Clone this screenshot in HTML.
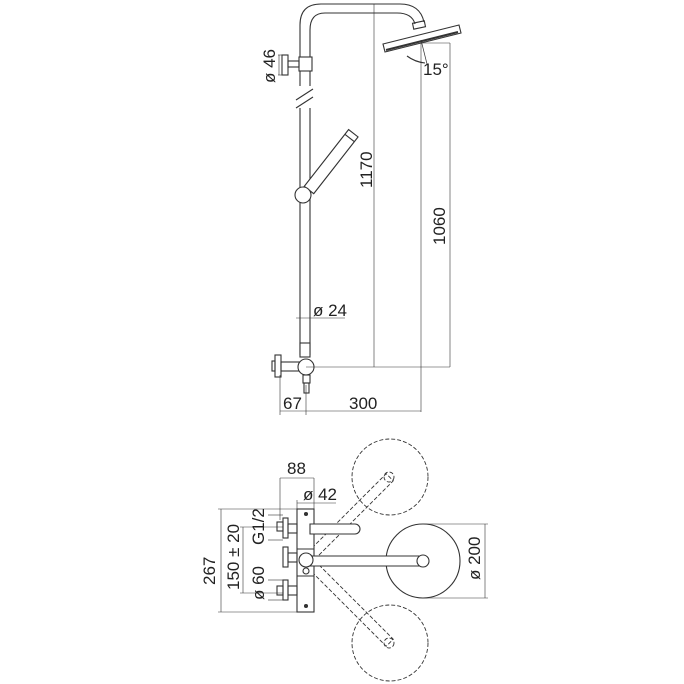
<!DOCTYPE html>
<html><head><style>body{margin:0;background:#fff}svg{display:block}text{font-family:"Liberation Sans",sans-serif;fill:#222}</style></head><body>
<svg width="684" height="684" viewBox="0 0 684 684" xmlns="http://www.w3.org/2000/svg">
<g fill="none" stroke="#333" stroke-width="1.1">
<path d="M300 355 V25 Q300 4 321 4 H400 Q420 4 424 22"/>
<path d="M310 355 V30 Q310 13 325 13 H397 Q412 13 415 24"/>
<rect x="413" y="22" width="12" height="6" transform="rotate(-12 419 25)"/>
<polygon points="383,44 459,25 461,33 385,52" fill="#fff"/>
<line x1="386" y1="50" x2="458" y2="32" stroke-width="2"/>
<path d="M407 56 Q415 62 425 63"/>
<line x1="421" y1="40" x2="427" y2="64" stroke-width="0.7"/>
<rect x="299" y="57" width="13" height="14" fill="#fff"/>
<rect x="288" y="61" width="11" height="6"/>
<rect x="282" y="55" width="6" height="20"/>
<line x1="278" y1="55" x2="288" y2="55" stroke-width="0.6"/>
<line x1="278" y1="75" x2="288" y2="75" stroke-width="0.6"/>
<line x1="279" y1="55" x2="279" y2="75" stroke-width="0.6"/>
<rect x="296" y="86" width="18" height="22" fill="#fff" stroke="none"/>
<line x1="296" y1="100" x2="313" y2="89"/>
<line x1="296" y1="108" x2="313" y2="97"/>
<g transform="rotate(38 309 190)"><rect x="303" y="118" width="12" height="72" fill="#fff"/><line x1="303" y1="124" x2="315" y2="124"/></g>
<circle cx="303" cy="195" r="8" fill="#fff"/>
<line x1="296" y1="318" x2="345" y2="318" stroke-width="0.6"/>
<rect x="300" y="343" width="10" height="14" fill="#fff"/>
<rect x="275" y="355" width="6" height="22"/>
<rect x="272" y="361" width="3" height="10"/>
<rect x="281" y="362" width="20" height="9"/>
<circle cx="306" cy="367" r="8" fill="#fff"/>
<rect x="303" y="375" width="7" height="8"/>
<rect x="304" y="383" width="5" height="10"/>
<g stroke-width="0.6">
<line x1="374" y1="4" x2="374" y2="367"/>
<line x1="306" y1="367" x2="450" y2="367"/>
<line x1="421" y1="43" x2="421" y2="412"/>
<line x1="450" y1="43" x2="450" y2="367"/>
<line x1="421" y1="43" x2="450" y2="43"/>
<line x1="280" y1="375" x2="280" y2="415"/>
<line x1="306" y1="385" x2="306" y2="415"/>
<line x1="280" y1="411" x2="421" y2="411"/>
</g>
</g>
<g font-size="17">
<text transform="translate(275 83) rotate(-90)">ø 46</text>
<text transform="translate(372 188) rotate(-90)">1170</text>
<text transform="translate(445 245) rotate(-90)">1060</text>
<text x="423" y="75">15°</text>
<text x="313" y="316">ø 24</text>
<text x="283" y="409">67</text>
<text x="349" y="409">300</text>
</g>
<g fill="none" stroke="#333" stroke-width="1.1">
<g stroke-dasharray="4 2" stroke-width="0.9">
<circle cx="390" cy="477" r="38"/><circle cx="390" cy="643" r="38"/>
<g transform="rotate(-45 307 560)"><rect x="307" y="555" width="117" height="10"/></g>
<g transform="rotate(45 307 560)"><rect x="307" y="555" width="117" height="10"/></g>
<circle cx="389" cy="477" r="5"/><circle cx="389" cy="643" r="5"/>
</g>
<circle cx="423" cy="561" r="37" fill="#fff"/>
<rect x="297" y="509" width="17" height="103" fill="#fff"/>
<line x1="297" y1="549" x2="314" y2="549"/><line x1="297" y1="576" x2="314" y2="576"/>
<path d="M308 556 H423 A5 5 0 0 1 423 566 H308 Z" fill="#fff"/>
<circle cx="423" cy="561" r="6" fill="#fff"/>
<path d="M310 524 H355 A5 5 0 0 1 355 534 H310 Z" fill="#fff"/>
<circle cx="306" cy="560" r="7" fill="#fff"/>
<circle cx="306" cy="571" r="3"/>
<circle cx="306" cy="514" r="1.5" fill="#333"/><circle cx="306" cy="606" r="1.5" fill="#333"/>
<rect x="283" y="518" width="5" height="20"/><rect x="288" y="524" width="9" height="9"/><rect x="277" y="522" width="6" height="9"/>
<rect x="283" y="547" width="5" height="20"/><rect x="288" y="553" width="9" height="9"/>
<rect x="283" y="580" width="5" height="20"/><rect x="288" y="586" width="9" height="9"/><rect x="277" y="586" width="6" height="9"/>
<g stroke-width="0.6">
<line x1="218" y1="509" x2="297" y2="509"/><line x1="218" y1="612" x2="297" y2="612"/>
<line x1="221" y1="509" x2="221" y2="612"/>
<line x1="243" y1="527" x2="243" y2="593"/>
<line x1="240" y1="527" x2="283" y2="527"/><line x1="240" y1="593" x2="283" y2="593"/>
<line x1="268" y1="515" x2="283" y2="515"/><line x1="268" y1="540" x2="283" y2="540"/>
<line x1="268" y1="580" x2="283" y2="580"/><line x1="268" y1="600" x2="283" y2="600"/>
<line x1="280" y1="478" x2="314" y2="478"/><line x1="280" y1="478" x2="280" y2="520"/><line x1="314" y1="478" x2="314" y2="509"/>
<line x1="297" y1="503" x2="336" y2="503"/><line x1="297" y1="500" x2="297" y2="509"/>
<line x1="423" y1="524" x2="488" y2="524"/><line x1="423" y1="598" x2="488" y2="598"/>
<line x1="485" y1="524" x2="485" y2="598"/>
</g>
</g>
<g font-size="17">
<text x="287" y="474">88</text>
<text x="303" y="500">ø 42</text>
<text transform="translate(215 585) rotate(-90)">267</text>
<text transform="translate(239 590) rotate(-90)">150 ± 20</text>
<text transform="translate(264 545) rotate(-90)">G1/2</text>
<text transform="translate(264 600) rotate(-90)">ø 60</text>
<text transform="translate(480 580) rotate(-90)">ø 200</text>
</g>
</svg>
</body></html>
